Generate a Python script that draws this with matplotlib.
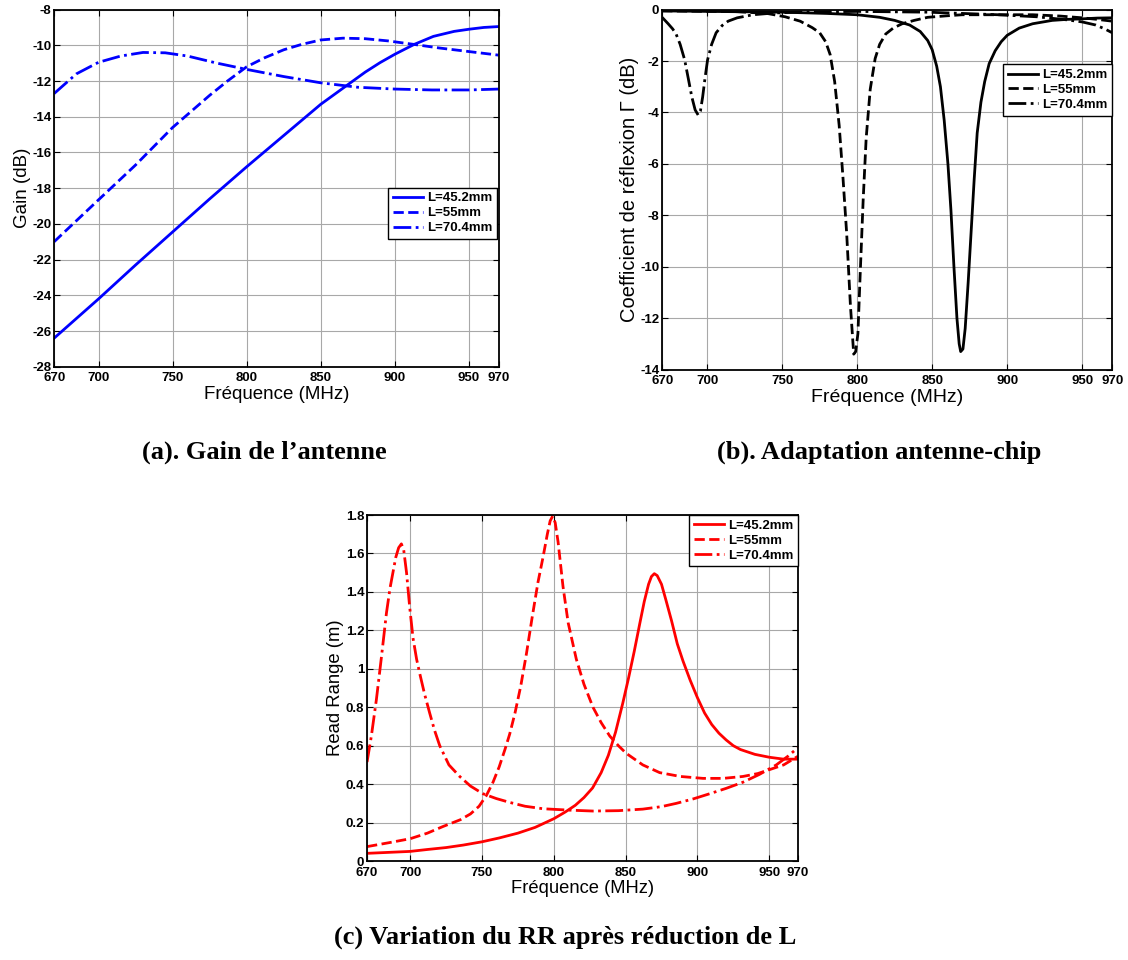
import numpy as np
import matplotlib.pyplot as plt

# (a) antenna gain (dB) vs frequency (MHz)
f_a1 = [670, 700, 725, 750, 775, 800, 825, 850, 860, 870, 880, 890, 900, 913, 926, 940, 950, 960, 970]
gain_452 = [-26.4, -24.2, -22.3, -20.45, -18.6, -16.8, -15.05, -13.3, -12.7, -12.1, -11.5, -10.97,
            -10.5, -9.95, -9.5, -9.22, -9.1, -9.0, -8.95]
f_a2 = [670, 700, 725, 750, 775, 787, 800, 812, 825, 837, 850, 865, 880, 895, 913, 930, 950, 970]
gain_55 = [-21.0, -18.65, -16.7, -14.6, -12.8, -12.0, -11.2, -10.7, -10.25, -9.95, -9.7, -9.6,
           -9.63, -9.75, -9.95, -10.15, -10.35, -10.55]
f_a3 = [670, 685, 700, 715, 730, 745, 760, 780, 800, 825, 850, 875, 900, 925, 950, 970]
gain_704 = [-12.7, -11.6, -10.95, -10.6, -10.4, -10.42, -10.6, -11.0, -11.35, -11.75, -12.1,
            -12.35, -12.45, -12.5, -12.5, -12.45]

# (b) reflection coefficient (dB)
f_b1 = [670, 700, 750, 780, 800, 815, 825, 835, 842, 847, 850, 853, 855.5, 858, 860.5, 862.5,
        864.5, 866.5, 868, 869, 870.5, 872, 874, 876, 878, 880, 882.5, 885, 888, 892, 896, 900,
        908, 917, 930, 940, 950, 960, 970]
refl_452 = [-0.05, -0.07, -0.1, -0.15, -0.2, -0.3, -0.42, -0.6, -0.85, -1.2, -1.56, -2.2, -3.0,
            -4.3, -6.0, -7.8, -10.0, -12.0, -13.0, -13.3, -13.2, -12.4, -10.6, -8.6, -6.6, -4.8,
            -3.6, -2.8, -2.1, -1.6, -1.25, -1.0, -0.72, -0.55, -0.42, -0.38, -0.36, -0.33, -0.32]
f_b2 = [670, 720, 740, 752, 762, 770, 775, 779, 782, 785, 788, 790.5, 793, 795.5, 797.7, 799,
        800.5, 802, 804, 806, 808.7, 812, 815, 819, 824, 830, 838, 847, 860, 870, 900, 917, 935,
        950, 960, 970]
refl_55 = [-0.05, -0.08, -0.15, -0.28, -0.45, -0.7, -0.9, -1.25, -1.75, -2.8, -4.5, -6.5, -8.7,
           -11.5, -13.4, -13.3, -12.6, -10.3, -7.4, -5.0, -3.1, -1.9, -1.35, -0.95, -0.72, -0.55,
           -0.42, -0.3, -0.24, -0.2, -0.2, -0.2, -0.25, -0.32, -0.38, -0.45]
f_b3 = [670, 674, 677, 679.3, 682, 685, 687.5, 689.8, 692, 694, 695.5, 697, 698.5, 700.3, 703,
        706, 710, 714, 720, 730.6, 745, 760, 800, 847, 894, 920, 940, 950, 959, 965, 970]
refl_704 = [-0.3, -0.55, -0.75, -0.95, -1.35, -1.95, -2.7, -3.4, -3.9, -4.1, -3.95, -3.4, -2.7,
            -1.95, -1.35, -0.9, -0.62, -0.45, -0.32, -0.2, -0.13, -0.1, -0.07, -0.1, -0.2, -0.28,
            -0.4, -0.48, -0.6, -0.75, -0.9]

# (c) read range (m)
f_c1 = [670, 685, 700, 712, 725, 737, 750, 762, 775, 787, 800, 808, 815, 821, 827, 833, 838, 843,
        848, 852, 856, 860, 863, 866, 868, 870, 872, 875, 878, 882, 886, 890, 895, 900, 905, 910,
        915, 920, 925, 930, 940, 950, 960, 970]
rr_452 = [0.04, 0.045, 0.05, 0.06, 0.07, 0.083, 0.1, 0.12, 0.145, 0.175, 0.22, 0.255, 0.29, 0.33,
          0.38, 0.46, 0.55, 0.67, 0.82, 0.95, 1.09, 1.24, 1.35, 1.44, 1.48, 1.495, 1.485, 1.44,
          1.36, 1.25, 1.13, 1.04, 0.94, 0.85, 0.77, 0.71, 0.665, 0.63, 0.6, 0.58, 0.555, 0.54,
          0.53, 0.53]
f_c2 = [670, 685, 700, 712, 723, 735, 742, 748, 753, 757.7, 762, 766, 769.3, 773, 777, 781, 785,
        789, 792.5, 795.5, 797.5, 799.3, 801, 803, 806.4, 810, 815.7, 821, 827.3, 833, 839, 845,
        850.5, 862, 873.7, 888, 903.9, 918, 931.7, 942, 950, 960, 970]
rr_55 = [0.075, 0.095, 0.116, 0.145, 0.18, 0.215, 0.245, 0.285, 0.34, 0.41, 0.49, 0.58, 0.66,
         0.77, 0.91, 1.08, 1.27, 1.45, 1.58, 1.7, 1.77, 1.795, 1.76, 1.66, 1.43, 1.24, 1.05, 0.92,
         0.8, 0.72, 0.65, 0.6, 0.56, 0.5, 0.46, 0.44, 0.43, 0.43, 0.44, 0.455, 0.475, 0.5, 0.545]
f_c3 = [670, 673, 676.5, 680, 683.5, 686, 688, 690, 692, 693.9, 695.5, 697.5, 699.7, 702, 704.5,
        706.7, 710, 713.6, 717, 720.6, 727, 734.5, 742, 750.7, 760, 769.3, 780, 792.5, 810, 827.3,
        845, 862, 875, 885.3, 897, 908.5, 920, 931.7, 943, 954.9, 963, 970]
rr_704 = [0.515, 0.65, 0.84, 1.06, 1.29, 1.42, 1.5, 1.58, 1.63, 1.65, 1.62, 1.5, 1.32, 1.16, 1.05,
          0.975, 0.87, 0.77, 0.68, 0.6, 0.5, 0.44, 0.39, 0.35, 0.325, 0.305, 0.285, 0.272, 0.265,
          0.26, 0.262, 0.27, 0.283, 0.3, 0.323, 0.35, 0.378, 0.41, 0.45, 0.5, 0.545, 0.59]

labels = ['L=45.2mm', 'L=55mm', 'L=70.4mm']
styles = ['-', '--', '-.']
xticks = [670, 700, 750, 800, 850, 900, 950, 970]

plt.rcParams['font.family'] = ['Liberation Sans', 'DejaVu Sans']

fig = plt.figure(figsize=(11.28, 9.6), dpi=100)


def style_axes(ax, ylabel, yticks, ylim, lab_size, ylab_size):
    ax.set_xlim(670, 970)
    ax.set_ylim(*ylim)
    ax.set_xticks(xticks)
    ax.set_yticks(yticks)
    ax.set_xticklabels([str(t) for t in xticks], fontsize=9.5, fontweight='bold')
    ax.set_yticklabels([('%g' % t) for t in yticks], fontsize=9.5, fontweight='bold')
    ax.tick_params(direction='in', top=True, right=True, length=4, width=0.8, pad=2)
    ax.tick_params(axis='x', pad=4)
    ax.grid(True, color='#a8a8a8', linewidth=0.8)
    ax.set_axisbelow(True)
    for s in ax.spines.values():
        s.set_linewidth(1.3)
    ax.set_xlabel('Fréquence (MHz)', fontsize=lab_size, labelpad=1)
    ax.set_ylabel(ylabel, fontsize=ylab_size, labelpad=1)


def add_legend(ax, **kw):
    ax.legend(prop={'weight': 'bold', 'size': 9.5}, frameon=True, fancybox=False,
              edgecolor='black', framealpha=1, handlelength=2.3, borderpad=0.35,
              labelspacing=0.2, handletextpad=0.3, **kw).get_frame().set_linewidth(1.0)


# (a)
ax1 = fig.add_axes([0.048, 0.618, 0.394, 0.372])
ax1.plot(f_a1, gain_452, styles[0], color='blue', lw=2, label=labels[0])
ax1.plot(f_a2, gain_55, styles[1], color='blue', lw=2, label=labels[1])
ax1.plot(f_a3, gain_704, styles[2], color='blue', lw=2, label=labels[2])
style_axes(ax1, 'Gain (dB)', list(range(-28, -7, 2)), (-28, -8), 13.5, 13.5)
add_legend(ax1, loc='center right', bbox_to_anchor=(1.0, 0.43), borderaxespad=0.1)

# (b)
ax2 = fig.add_axes([0.587, 0.615, 0.399, 0.375])
ax2.plot(f_b1, refl_452, styles[0], color='black', lw=2, label=labels[0])
ax2.plot(f_b2, refl_55, styles[1], color='black', lw=2, label=labels[1])
ax2.plot(f_b3, refl_704, styles[2], color='black', lw=2, label=labels[2])
style_axes(ax2, 'Coefficient de réflexion Γ (dB)', list(range(-14, 1, 2)), (-14, 0), 14, 14.5)
add_legend(ax2, loc='upper right', bbox_to_anchor=(1.0, 0.848), borderaxespad=0.0)

# (c)
ax3 = fig.add_axes([0.3254, 0.1031, 0.382, 0.3604])
ax3.plot(f_c1, rr_452, styles[0], color='red', lw=2, label=labels[0])
ax3.plot(f_c2, rr_55, styles[1], color='red', lw=2, label=labels[1])
ax3.plot(f_c3, rr_704, styles[2], color='red', lw=2, label=labels[2])
style_axes(ax3, 'Read Range (m)', [0, 0.2, 0.4, 0.6, 0.8, 1, 1.2, 1.4, 1.6, 1.8], (0, 1.8), 13.2, 13.3)
add_legend(ax3, loc='upper right', borderaxespad=0.0)

# captions
cap = dict(fontsize=19, fontweight='bold', family=['Liberation Serif', 'DejaVu Serif'],
           ha='center', va='center')
fig.text(264 / 1128, 1 - 452 / 960, "(a). Gain de l’antenne", **cap)
fig.text(879 / 1128, 1 - 452 / 960, "(b). Adaptation antenne-chip", **cap)
fig.text(565 / 1128, 1 - 937 / 960, "(c) Variation du RR après réduction de L", **cap)

fig.savefig('out.png', dpi=100)
